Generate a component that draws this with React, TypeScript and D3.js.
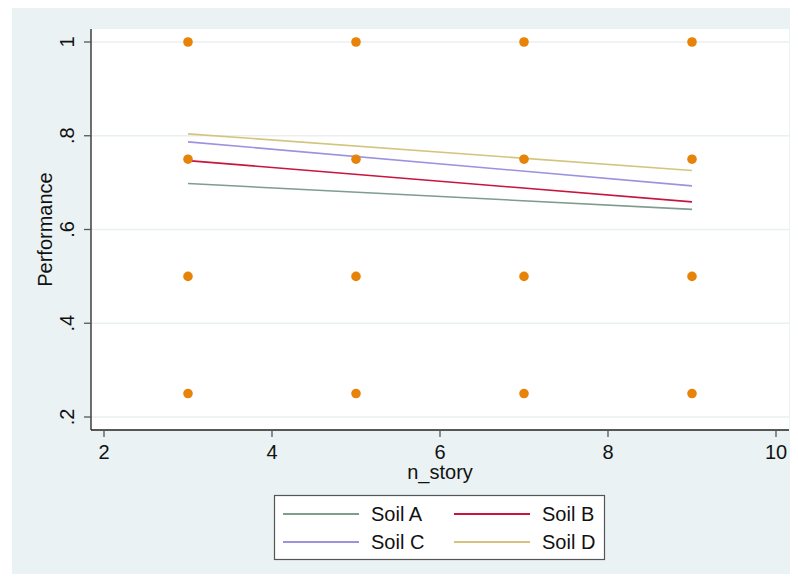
import { useEffect, useRef } from 'react'
import * as d3 from 'd3'

// observed performance at each story count
const stories = [3, 5, 7, 9]
const perfLevels = [1, 0.75, 0.5, 0.25]

// fitted lines, values at x=3 and x=9
const fitX = [3, 9]
const soilNames = ['Soil A', 'Soil B', 'Soil C', 'Soil D']
const soilA = [0.698, 0.643]
const soilB = [0.747, 0.659]
const soilC = [0.787, 0.693]
const soilD = [0.804, 0.726]
const soilColors = ['#7f9c8d', '#c8143f', '#9d92e0', '#d3c57f']

const xTicks = [2, 4, 6, 8, 10]
const yTicks = [0.2, 0.4, 0.6, 0.8, 1]
const yTickLabels = ['.2', '.4', '.6', '.8', '1']

export default function App() {
  const ref = useRef<SVGSVGElement>(null)
  useEffect(() => {
    if (!ref.current) return
    const W = 798, H = 582
    const L = 91, T = 29, R = 789, B = 430
    const font = '"Liberation Sans", Arial, sans-serif'
    const fs = '20px'
    const svg = d3.select(ref.current)
    svg.selectAll('*').remove()
    svg.attr('width', W).attr('height', H)

    svg.append('rect').attr('x', 12).attr('y', 8).attr('width', W - 12).attr('height', H - 8).attr('fill', '#eaf2f3')
    svg.append('rect').attr('x', L).attr('y', T).attr('width', R - L).attr('height', B - T).attr('fill', '#fff')

    const x = d3.scaleLinear().domain([2, 10]).range([104, 776])
    const y = d3.scaleLinear().domain([0.2, 1]).range([417, 42])

    // grid
    svg.append('g').selectAll('line').data(yTicks).join('line')
      .attr('x1', L).attr('x2', R).attr('y1', d => y(d)).attr('y2', d => y(d))
      .attr('stroke', '#eaeff0').attr('stroke-width', 1.5)

    // axes
    svg.append('line').attr('x1', L).attr('x2', L).attr('y1', T).attr('y2', B).attr('stroke', '#222').attr('stroke-width', 1.3)
    svg.append('line').attr('x1', L).attr('x2', R).attr('y1', B).attr('y2', B).attr('stroke', '#222').attr('stroke-width', 1.3)

    svg.append('g').selectAll('line').data(yTicks).join('line')
      .attr('x1', L - 7).attr('x2', L).attr('y1', d => y(d)).attr('y2', d => y(d))
      .attr('stroke', '#555').attr('stroke-width', 1.3)
    svg.append('g').selectAll('text').data(yTicks).join('text')
      .attr('transform', d => `translate(74,${y(d)}) rotate(-90)`)
      .attr('text-anchor', 'middle')
      .style('font-family', font).style('font-size', fs).attr('fill', '#111')
      .text((d, i) => yTickLabels[i])

    svg.append('g').selectAll('line').data(xTicks).join('line')
      .attr('x1', d => x(d)).attr('x2', d => x(d)).attr('y1', B).attr('y2', B + 7)
      .attr('stroke', '#555').attr('stroke-width', 1.3)
    svg.append('g').selectAll('text').data(xTicks).join('text')
      .attr('x', d => x(d)).attr('y', 459).attr('text-anchor', 'middle')
      .style('font-family', font).style('font-size', fs).attr('fill', '#111')
      .text(d => d)

    svg.append('text').attr('x', (L + R) / 2).attr('y', 479).attr('text-anchor', 'middle')
      .style('font-family', font).style('font-size', fs).attr('fill', '#111').text('n_story')
    svg.append('text').attr('transform', `translate(52,${(T + B) / 2}) rotate(-90)`).attr('text-anchor', 'middle')
      .style('font-family', font).style('font-size', fs).attr('fill', '#111').text('Performance')

    // fitted lines
    const fits = [soilA, soilB, soilC, soilD]
    const line = d3.line<number>().x((d, i) => x(fitX[i])).y(d => y(d))
    svg.append('g').selectAll('path').data(fits).join('path')
      .attr('d', d => line(d)).attr('fill', 'none')
      .attr('stroke', (d, i) => soilColors[i]).attr('stroke-width', 1.6)

    // scatter
    const pts = stories.flatMap(s => perfLevels.map(p => [s, p]))
    svg.append('g').selectAll('circle').data(pts).join('circle')
      .attr('cx', d => x(d[0])).attr('cy', d => y(d[1])).attr('r', 4.8).attr('fill', '#e8830a')

    // legend
    const lg = svg.append('g')
    lg.append('rect').attr('x', 274.5).attr('y', 495.5).attr('width', 330).attr('height', 64)
      .attr('fill', '#fff').attr('stroke', '#555').attr('stroke-width', 1.2)
    soilNames.forEach((name, i) => {
      const col = i % 2, row = Math.floor(i / 2)
      const lx = 283 + col * 171, ly = 514 + row * 28
      lg.append('line').attr('x1', lx).attr('x2', lx + 76).attr('y1', ly).attr('y2', ly)
        .attr('stroke', soilColors[i]).attr('stroke-width', 1.8)
      lg.append('text').attr('x', lx + 88).attr('y', ly + 7)
        .style('font-family', font).style('font-size', fs).attr('fill', '#111').text(name)
    })
  }, [])
  return <svg ref={ref} style={{ display: 'block', margin: -8 }} />
}
